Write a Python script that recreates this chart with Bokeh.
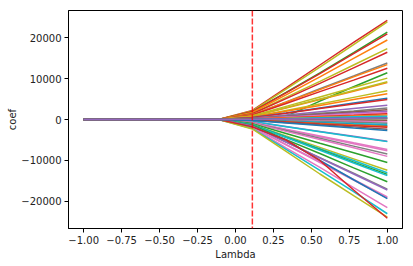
from bokeh.plotting import figure
from bokeh.models import FixedTicker, CustomJSTickFormatter, Span, Range1d
from bokeh.embed import file_html
from bokeh.resources import INLINE

# lambda grid (10 points)
lam = [-1.0, -0.778, -0.556, -0.333, -0.111, 0.111, 0.333, 0.556, 0.778, 1.0]
# coefficients are zero on the first five lambda values
zero_head = [0.0, 0.0, 0.0, 0.0, 0.0]

# paths: values at lambda = 0.111, 0.333, 0.556, 0.778, 1.0
pos_colors = ["red", "olive", "green", "red", "orange", "olive", "red", "gray", "orange",
              "red", "green", "olive", "orange", "olive", "olive", "orange", "blue", "red"]
pos_paths = [
    [2200, 7700, 13300, 18800, 24200],
    [2100, 7400, 12800, 18300, 23800],
    [1900, 6600, 11400, 16300, 21300],
    [1900, 6500, 11200, 16100, 20900],
    [1700, 6000, 10400, 14900, 19400],
    [1500, 5400, 9300, 13300, 17300],
    [1400, 5100, 8800, 12600, 16400],
    [1200, 4300, 7500, 10600, 13800],
    [1200, 4200, 7300, 10400, 13400],
    [1100, 3900, 6800, 9600, 12500],
    [0, 800, 4500, 8000, 11400],
    [900, 3200, 5500, 7800, 10100],
    [800, 2800, 4900, 6900, 9000],
    [800, 2900, 5000, 7100, 9200],
    [600, 2200, 3800, 5400, 7000],
    [600, 2000, 3400, 4900, 6300],
    [500, 1600, 2800, 4000, 5200],
    [450, 1550, 2700, 3800, 4900],
]

band_colors = ["purple", "gray", "brown", "purple", "pink", "red", "orange", "cyan", "blue",
               "green", "brown", "pink", "gray", "cyan", "blue", "orange", "red", "brown", "blue"]
band_paths = [
    [300, 1100, 1900, 2700, 3500],
    [250, 900, 1500, 2100, 2800],
    [220, 750, 1300, 1850, 2400],
    [200, 650, 1100, 1600, 2000],
    [150, 550, 950, 1350, 1700],
    [120, 450, 750, 1050, 1400],
    [100, 350, 600, 850, 1100],
    [80, 250, 450, 650, 800],
    [50, 150, 250, 350, 450],
    [30, 80, 150, 200, 250],
    [0, -50, -100, -150, -200],
    [-50, -200, -350, -450, -600],
    [-80, -300, -500, -700, -900],
    [-100, -400, -650, -950, -1200],
    [-150, -500, -850, -1200, -1500],
    [-150, -550, -950, -1350, -1700],
    [-150, -600, -1100, -1500, -1900],
    [-200, -750, -1300, -1800, -2400],
    [-250, -850, -1450, -2100, -2700],
]

neg_colors = ["purple", "cyan", "pink", "pink", "gray", "pink", "green", "olive", "cyan",
              "green", "cyan", "green", "gray", "purple", "pink", "pink", "blue", "pink",
              "cyan", "olive", "red"]
neg_paths = [
    [-500, -1700, -2900, -4100, -5300],
    [-500, -1750, -3000, -4200, -5400],
    [-700, -2400, -4000, -5700, -7300],
    [-750, -2500, -4200, -5900, -7600],
    [-800, -2700, -4600, -6500, -8400],
    [-850, -2900, -4900, -6900, -9000],
    [-1000, -3400, -5800, -8100, -10500],
    [-1200, -4000, -6800, -9600, -12400],
    [-1200, -4200, -7100, -10000, -13000],
    [-1300, -4300, -7300, -10400, -13400],
    [-1300, -4400, -7500, -10600, -13700],
    [-1400, -4900, -8300, -11800, -15200],
    [-1600, -5500, -9300, -13100, -17000],
    [-1600, -5500, -9400, -13300, -17200],
    [-1800, -6100, -10300, -14600, -18900],
    [-1800, -6200, -10500, -14800, -19200],
    [-1800, -5000, -10000, -14700, -19300],
    [-2000, -6900, -11700, -16600, -21500],
    [-2200, -7300, -12400, -17600, -23000],
    [-2300, -7800, -13300, -18600, -23800],
    [-1800, -5000, -10000, -17200, -24100],
]

last_color = ["purple"]
last_path = [[40, 120, 200, 280, 350]]

best_lambda = 0.111
x_ticks = [-1.0, -0.75, -0.5, -0.25, 0.0, 0.25, 0.5, 0.75, 1.0]
y_ticks = [-20000, -10000, 0, 10000, 20000]

palette = {
    "blue": "#1f77b4", "orange": "#ff7f0e", "green": "#2ca02c", "red": "#d62728",
    "purple": "#9467bd", "brown": "#8c564b", "pink": "#e377c2", "gray": "#7f7f7f",
    "olive": "#bcbd22", "cyan": "#17becf",
}

p = figure(width=413, height=266, output_backend="svg", toolbar_location=None,
           x_range=Range1d(-1.1, 1.1), y_range=Range1d(-26600, 26600),
           min_border_left=68, min_border_right=10, min_border_top=10, min_border_bottom=38)
p.frame_width = 334
p.frame_height = 218

all_colors = pos_colors + neg_colors + band_colors + last_color
all_paths = pos_paths + neg_paths + band_paths + last_path
for c, vals in zip(all_colors, all_paths):
    p.line(lam, zero_head + list(vals), line_color=palette[c], line_width=1.5)

p.add_layout(Span(location=best_lambda, dimension="height", line_color="red",
                  line_alpha=0.8, line_dash="6 2", line_width=1.5))

p.grid.visible = False
p.outline_line_color = "black"
p.outline_line_width = 1
p.outline_line_alpha = 1.0
p.background_fill_color = "white"
p.border_fill_color = "white"

fmt_code = """
var s = Math.abs(tick).toFixed(%d);
return (tick < 0 ? '\\u2212' : '') + s;
"""
p.xaxis.ticker = FixedTicker(ticks=x_ticks)
p.yaxis.ticker = FixedTicker(ticks=y_ticks)
p.xaxis.formatter = CustomJSTickFormatter(code=fmt_code % 2)
p.yaxis.formatter = CustomJSTickFormatter(code=fmt_code % 0)
p.xaxis.axis_label = "Lambda"
p.yaxis.axis_label = "coef"
for ax in (p.xaxis, p.yaxis):
    ax.axis_line_color = "black"
    ax.major_tick_line_color = "black"
    ax.major_tick_out = 4
    ax.major_tick_in = 0
    ax.minor_tick_line_color = None
    ax.major_label_text_font = "DejaVu Sans"
    ax.major_label_text_font_size = "10px"
    ax.major_label_text_color = "#222222"
    ax.axis_label_text_font = "DejaVu Sans"
    ax.axis_label_text_font_size = "10px"
    ax.axis_label_text_font_style = "normal"
    ax.axis_label_text_color = "#222222"
    ax.major_label_standoff = 3
p.xaxis.axis_label_standoff = 2
p.yaxis.axis_label_standoff = 0

out = file_html(p, INLINE)
open("out.html", "w").write(out)
